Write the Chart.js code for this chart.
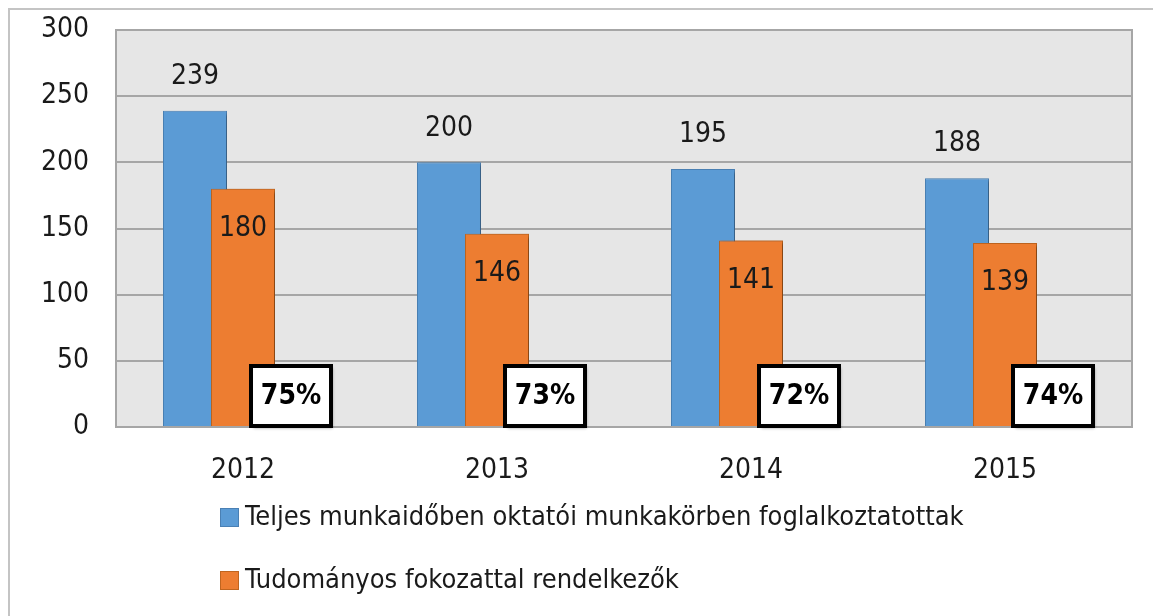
<!DOCTYPE html>
<html>
<head>
<meta charset="utf-8">
<script src="https://cdn.jsdelivr.net/npm/chart.js@4.4.0/dist/chart.umd.min.js"></script>
<style>
  html, body { margin: 0; padding: 0; background: #fff; }
  #wrap { width: 1153px; height: 616px; position: relative; }
</style>
</head>
<body>
<div id="wrap"><canvas id="Chart" width="1153" height="616"></canvas></div>
<script>
var years = ['2012', '2013', '2014', '2015'];
var fullTime = [239, 200, 195, 188];
var withDegree = [180, 146, 141, 139];
var shares = [75, 73, 72, 74];
var seriesNames = [
  'Teljes munkaidőben oktatói munkakörben foglalkoztatottak',
  'Tudományos fokozattal rendelkezők'
];
var yTicks = [0, 50, 100, 150, 200, 250, 300];

var FONT = '"Liberation Sans Narrow", "DejaVu Sans Condensed", "Liberation Sans", sans-serif';

var blue = '#5b9bd5', blueLine = '#4a80b4';
var orange = '#ed7d31', orangeLine = '#c0651f';

function shadowOn(ctx) {
  ctx.shadowColor = 'rgba(0,0,0,0.35)';
  ctx.shadowOffsetX = 2;
  ctx.shadowOffsetY = 2;
  ctx.shadowBlur = 3;
}

// frame, plot background, shadows, labels, boxes, legend
var decor = {
  id: 'decor',
  beforeDraw: function(chart) {
    var ctx = chart.ctx, a = chart.chartArea;
    ctx.save();
    ctx.strokeStyle = '#c4c4c4';
    ctx.lineWidth = 2;
    ctx.beginPath();
    ctx.moveTo(9, 616); ctx.lineTo(9, 9); ctx.lineTo(1153, 9);
    ctx.stroke();
    ctx.fillStyle = '#e6e6e6';
    ctx.fillRect(a.left, a.top, a.right - a.left, a.bottom - a.top);
    ctx.strokeStyle = '#a6a6a6';
    ctx.strokeRect(a.left, a.top, a.right - a.left, a.bottom - a.top);
    ctx.restore();
  },
  beforeDatasetDraw: function(chart) {
    chart.ctx.save();
    shadowOn(chart.ctx);
  },
  afterDatasetDraw: function(chart) {
    chart.ctx.restore();
  },
  afterDatasetsDraw: function(chart) {
    var ctx = chart.ctx;
    // orange bars overlap the blue ones
    var mo = chart.getDatasetMeta(1);
    ctx.save();
    shadowOn(ctx);
    mo.controller.draw();
    ctx.restore();

    var mb = chart.getDatasetMeta(0);
    var mp = chart.getDatasetMeta(2);
    var base = chart.scales.y.getPixelForValue(0);
    ctx.save();
    ctx.fillStyle = '#1a1a1a';
    ctx.font = '28px ' + FONT;
    ctx.textAlign = 'center';
    ctx.textBaseline = 'middle';
    mb.data.forEach(function(bar, i) {
      ctx.fillText(String(fullTime[i]), bar.x, bar.y - 34);
    });
    mo.data.forEach(function(bar, i) {
      ctx.fillText(String(withDegree[i]), bar.x, bar.y + 40);
    });
    mp.data.forEach(function(bar, i) {
      var w = 80, h = 60;
      var x = bar.x - w / 2, y = base - h - 1;
      ctx.save();
      ctx.shadowColor = 'rgba(0,0,0,0.4)';
      ctx.shadowOffsetX = 2;
      ctx.shadowOffsetY = 2;
      ctx.shadowBlur = 3;
      ctx.fillStyle = '#fff';
      ctx.fillRect(x, y, w, h);
      ctx.restore();
      ctx.lineWidth = 4;
      ctx.strokeStyle = '#000';
      ctx.strokeRect(x, y, w, h);
      ctx.fillStyle = '#000';
      ctx.font = 'bold 28px ' + FONT;
      ctx.fillText(shares[i] + '%', bar.x, y + h / 2 + 1);
    });
    ctx.restore();
  },
  afterDraw: function(chart) {
    var ctx = chart.ctx;
    var cols = [[blue, blueLine], [orange, orangeLine]];
    ctx.save();
    ctx.font = '27px ' + FONT;
    ctx.textBaseline = 'middle';
    ctx.textAlign = 'left';
    seriesNames.forEach(function(name, i) {
      var cy = 517 + i * 63;
      ctx.fillStyle = cols[i][0];
      ctx.strokeStyle = cols[i][1];
      ctx.lineWidth = 1;
      ctx.fillRect(220, cy - 9, 19, 19);
      ctx.strokeRect(220.5, cy - 8.5, 18, 18);
      ctx.fillStyle = '#1a1a1a';
      ctx.fillText(name, 245, cy + 1);
    });
    ctx.restore();
  }
};

var ctx = document.getElementById('Chart').getContext('2d');
var chart = new Chart(ctx, {
  type: 'bar',
  data: {
    labels: years,
    datasets: [{
      label: seriesNames[0],
      data: fullTime,
      backgroundColor: blue,
      borderColor: blueLine,
      borderWidth: 1
    }, {
      label: seriesNames[1],
      data: withDegree,
      backgroundColor: orange,
      borderColor: orangeLine,
      borderWidth: 1
    }, {
      label: 'arány',
      data: years.map(function() { return 0; }),
      backgroundColor: 'rgba(0,0,0,0)',
      borderWidth: 0
    }]
  },
  options: {
    responsive: false,
    animation: false,
    events: [],
    categoryPercentage: 0.567,
    barPercentage: 1.333,
    layout: { padding: { left: 10, top: 30, right: 21, bottom: 0 } },
    plugins: {
      legend: { display: false },
      tooltip: { enabled: false }
    },
    scales: {
      x: {
        grid: { display: false },
        border: { display: false },
        ticks: { color: '#1a1a1a', font: { family: FONT, size: 28 }, padding: 19 },
        afterFit: function(s) { s.height = 189; }
      },
      y: {
        min: 0,
        max: 300,
        afterBuildTicks: function(s) { s.ticks = yTicks.map(function(v) { return { value: v }; }); },
        grid: { color: '#a6a6a6', lineWidth: 2, drawTicks: true, tickLength: 27, tickColor: 'rgba(0,0,0,0)' },
        border: { display: false },
        ticks: { color: '#1a1a1a', font: { family: FONT, size: 28 }, padding: 0 },
        afterFit: function(s) { s.width = 106; }
      }
    }
  },
  plugins: [decor]
});
</script>
</body>
</html>
